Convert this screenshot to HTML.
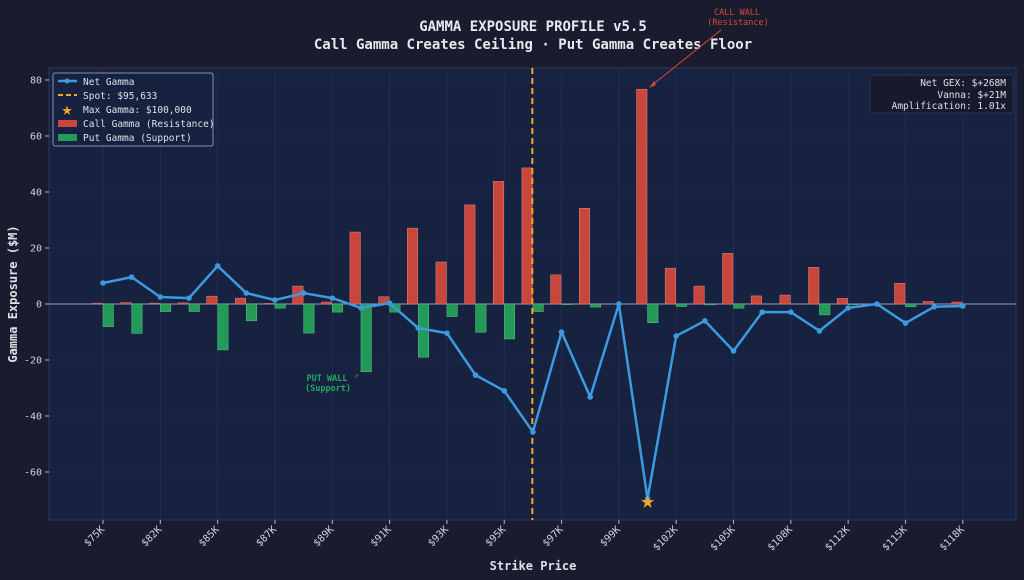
<!DOCTYPE html>
<html><head><meta charset="utf-8">
<style>
html,body{margin:0;padding:0;background:#1a1b2e;}
svg{display:block;font-family:"DejaVu Sans Mono","Liberation Mono",monospace;}
</style></head>
<body>
<svg id="chart" width="1024" height="580" viewBox="0 0 1024 580">
<rect x="0" y="0" width="1024" height="580" fill="#1a1b2e"/>
<text x="533" y="31" text-anchor="middle" fill="#e8e8ee" font-size="14" font-weight="bold">GAMMA EXPOSURE PROFILE v5.5</text>
<text x="533" y="49" text-anchor="middle" fill="#e8e8ee" font-size="14" font-weight="bold">Call Gamma Creates Ceiling · Put Gamma Creates Floor</text>
<rect x="49" y="68" width="967" height="452" fill="#172241" stroke="#2c3758"/>
<g id="grid"></g>
<g id="bars"></g>
<g id="line"></g>
<g id="axes"></g>
<text x="533" y="570" text-anchor="middle" fill="#e0e0e8" font-size="12" font-weight="bold">Strike Price</text>
<text transform="translate(17,294) rotate(-90)" text-anchor="middle" fill="#e0e0e8" font-size="12" font-weight="bold">Gamma Exposure ($M)</text>
<g>
<rect x="53" y="73" width="160" height="73" rx="2" fill="#172241" stroke="#8a90a8" stroke-width="1"/>
<line x1="58" y1="81" x2="77" y2="81" stroke="#3b9ae0" stroke-width="2.5"/><circle cx="67" cy="81" r="2.5" fill="#3b9ae0"/>
<text x="83" y="85" fill="#e0e0e8" font-size="9.5">Net Gamma</text>
<line x1="58" y1="95" x2="77" y2="95" stroke="#f5a623" stroke-width="2" stroke-dasharray="5,3"/>
<text x="83" y="99" fill="#e0e0e8" font-size="9.5">Spot: $95,633</text>
<text x="67" y="115" text-anchor="middle" fill="#f5a623" font-size="18">★</text>
<text x="83" y="113" fill="#e0e0e8" font-size="9.5">Max Gamma: $100,000</text>
<rect x="58" y="120" width="19" height="7" fill="#c9463d"/>
<text x="83" y="127" fill="#e0e0e8" font-size="9.5">Call Gamma (Resistance)</text>
<rect x="58" y="134" width="19" height="7" fill="#249a58"/>
<text x="83" y="141" fill="#e0e0e8" font-size="9.5">Put Gamma (Support)</text>
</g>
<g>
<rect x="870" y="75" width="143" height="38" rx="2" fill="#161a2c" stroke="#2c3450"/>
<text x="1006" y="86" text-anchor="end" fill="#e0e0e8" font-size="9.5">Net GEX: $+268M</text>
<text x="1006" y="98" text-anchor="end" fill="#e0e0e8" font-size="9.5">Vanna: $+21M</text>
<text x="1006" y="109" text-anchor="end" fill="#e0e0e8" font-size="9.5">Amplification: 1.01x</text>
</g>
<g>
<text x="737" y="15" text-anchor="middle" fill="#d9473e" font-size="8.5">CALL WALL</text>
<text x="738" y="25" text-anchor="middle" fill="#d9473e" font-size="8.5">(Resistance)</text>
<line x1="721" y1="30" x2="651" y2="86" stroke="#d9473e" stroke-width="1"/>
<path d="M649,88 L654,81 L656,85 Z" fill="#d9473e"/>
</g>
<g>
<text x="327" y="381" text-anchor="middle" fill="#27a85f" font-size="8.5" font-weight="bold">PUT WALL</text>
<text x="328" y="391" text-anchor="middle" fill="#27a85f" font-size="8.5" font-weight="bold">(Support)</text>
<text x="354" y="378" fill="#27a85f" font-size="8">↗</text>
</g>
</svg>
<script>
const strikeLabels = ["$75K","$77K","$82K","$83K","$85K","$86K","$87K","$88K","$89K","$90K","$91K","$92K","$93K","$94K","$95K","$96K","$97K","$98K","$99K","$100K","$102K","$103K","$105K","$106K","$108K","$110K","$112K","$114K","$115K","$116K","$118K"];
const callGamma = [0.3,0.5,0.3,0.4,2.8,2.1,0.2,6.4,0.7,25.7,2.6,27.1,15,35.4,43.8,48.6,10.4,34.2,0,76.7,12.8,6.4,18.1,2.9,3.2,13.1,2,0,7.4,0.9,0.7];
const putGamma = [-8.1,-10.5,-2.7,-2.7,-16.4,-6,-1.5,-10.4,-2.9,-24.2,-2.9,-19,-4.5,-10.1,-12.5,-2.7,-0.2,-1.1,0,-6.7,-0.9,-0.3,-1.5,0,0,-3.9,-0.2,0,-1,0,0];
const netGamma = [7.5,9.6,2.5,2.1,13.6,3.9,1.4,3.9,2.1,-1.4,0.3,-8.6,-10.4,-25.4,-31,-45.7,-10,-33.2,0,-69.6,-11.4,-6,-16.8,-2.9,-2.9,-9.6,-1.4,0,-6.8,-1,-0.7];
const yTicks = [-60,-40,-20,0,20,40,60,80];
const spotIndex = 14.98;
const maxGammaIndex = 19;

const NS="http://www.w3.org/2000/svg";
const X0=103, DX=28.66, Y0=304, KY=2.8;
const xs=i=>X0+i*DX, ys=v=>Y0-v*KY;
function mk(tag,attrs,parent){const e=document.createElementNS(NS,tag);for(const k in attrs)e.setAttribute(k,attrs[k]);parent.appendChild(e);return e;}
const grid=document.getElementById('grid'),bars=document.getElementById('bars'),line=document.getElementById('line'),axes=document.getElementById('axes');
yTicks.forEach(t=>{
  const g=mk('line',{x1:49,x2:1016,y1:ys(t),y2:ys(t),stroke:'#243055','stroke-width':0.8},grid);
  
  
  const tk=mk('line',{x1:45,x2:49,y1:ys(t),y2:ys(t),stroke:'#b0b4c8'},axes);
  
  
  const lb=mk('text',{x:42,y:ys(t)+3.5,'text-anchor':'end',fill:'#d0d3e0','font-size':10},axes);
  lb.textContent=t;
  
  
});
strikeLabels.forEach((s,i)=>{
  if(i%2) return;
  const x=xs(i);
  const g=mk('line',{x1:x,x2:x,y1:68,y2:520,stroke:'#243055','stroke-width':0.8},grid);
  
  
  const tk=mk('line',{x1:x,x2:x,y1:520,y2:524,stroke:'#b0b4c8'},axes);
  
  
  const lb=mk('text',{x:x+2,y:530,'text-anchor':'end',fill:'#d0d3e0','font-size':10,transform:`rotate(-45 ${x+2} 530)`},axes);
  lb.textContent=s;
  
  
});
const zl=mk('line',{x1:49,x2:1016,y1:ys(0),y2:ys(0),stroke:'#9aa0b8','stroke-width':1},bars);


callGamma.forEach((v,i)=>{
  const r=mk('rect',{x:xs(i)-11,y:Math.min(ys(v),Y0),width:10.5,height:Math.abs(v*KY),fill:'#c9463d',stroke:'#d98680','stroke-width':0.5},bars);
  
  
});
putGamma.forEach((v,i)=>{
  const r=mk('rect',{x:xs(i),y:Math.min(ys(v),Y0),width:10.5,height:Math.abs(v*KY),fill:'#249a58',stroke:'#5fbf88','stroke-width':0.5},bars);
  
  
});
const sp=mk('line',{x1:xs(spotIndex),x2:xs(spotIndex),y1:68,y2:520,stroke:'#f5a623','stroke-width':2,'stroke-dasharray':'6,4'},line);


const pl=mk('polyline',{points:netGamma.map((v,i)=>xs(i)+','+ys(v)).join(' '),fill:'none',stroke:'#3b9ae0','stroke-width':2.5,'stroke-linejoin':'round'},line);


netGamma.forEach((v,i)=>{
  const c=mk('circle',{cx:xs(i),cy:ys(v),r:2.8,fill:'#3b9ae0'},line);
  
  
});
const st=mk('text',{x:xs(maxGammaIndex),y:ys(netGamma[maxGammaIndex])+9,'text-anchor':'middle',fill:'#f5a623','font-size':24},line);
st.textContent='★';


</script>
</body></html>
